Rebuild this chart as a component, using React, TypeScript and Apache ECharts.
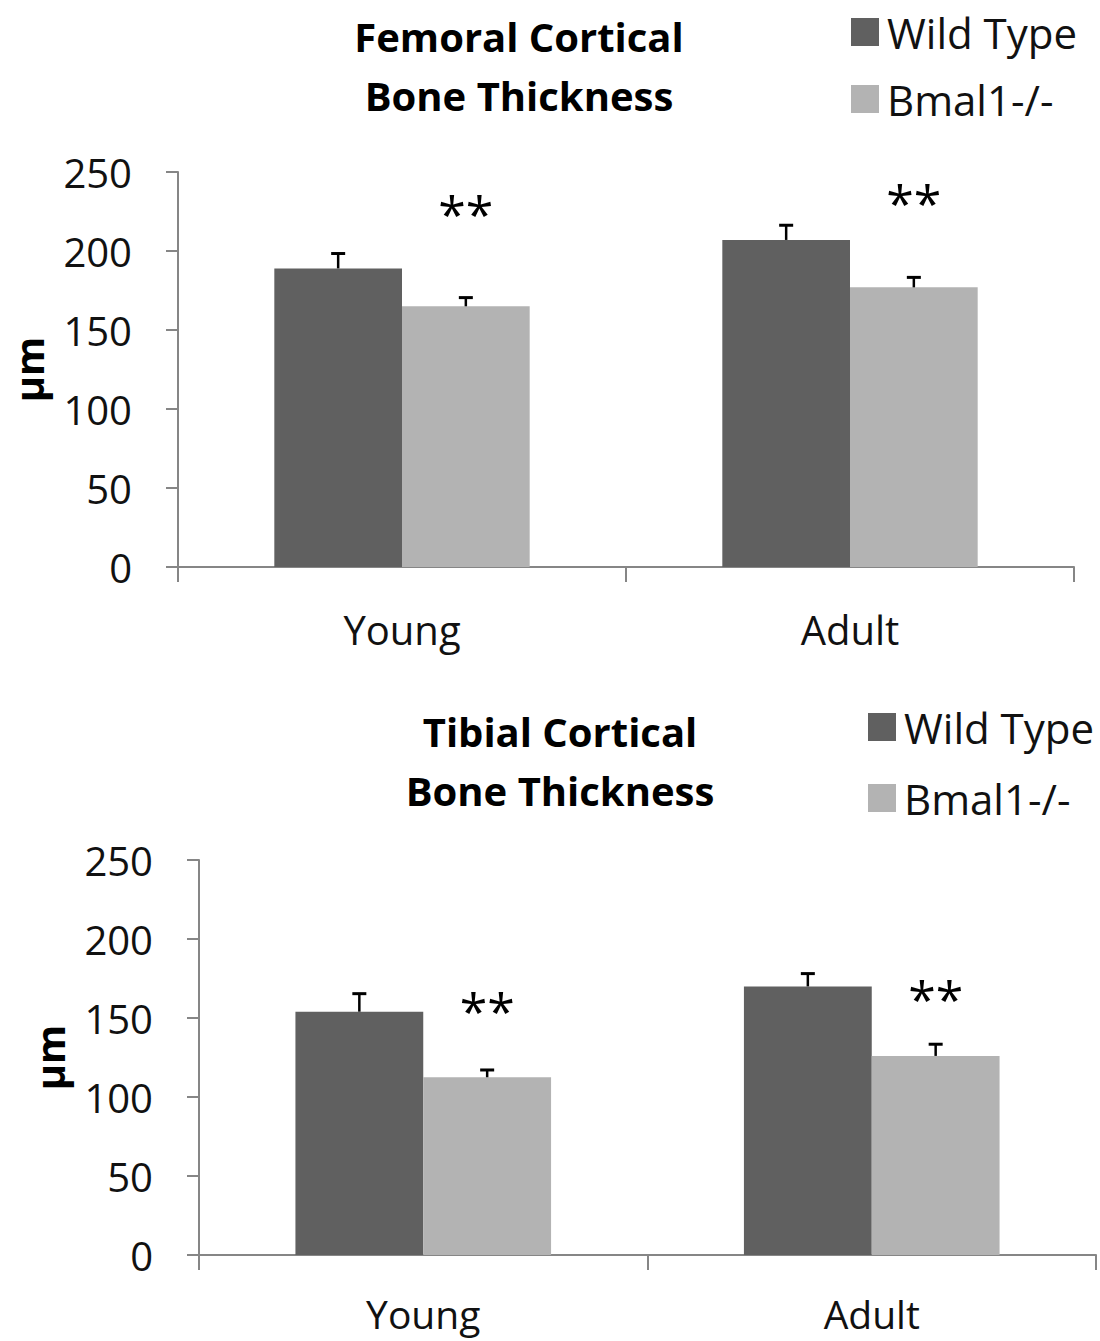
import React, { useEffect, useRef } from "react";
import * as echarts from "echarts";

const categories = ["Young", "Adult"];
const seriesNames = ["Wild Type", "Bmal1-/-"];
const yMin = 0;
const yMax = 250;
const yInterval = 50;

const femurWT = [189, 207];
const femurWTErr = [9.4, 9.3];
const femurKO = [165, 177];
const femurKOErr = [5.5, 6.3];
const femurStarY = [229, 236];

const tibiaWT = [154, 170];
const tibiaWTErr = [11.4, 8.1];
const tibiaKO = [112.5, 126];
const tibiaKOErr = [4.6, 7.4];
const tibiaStarY = [160, 168];

const topTitle = ["Femoral Cortical", "Bone Thickness"];
const bottomTitle = ["Tibial Cortical", "Bone Thickness"];
const starText = "**";
const unitLabel = "µm";

const FONT = '"Open Sans", sans-serif';
const DARK = "#606060";
const LIGHT = "#b3b3b3";
const AXIS = "#868686";
const GAP = 0.43;

function barHalf(api: any) {
  const band = api.size([1, 0])[0];
  return (band * (1 - GAP)) / 2;
}

function errorSeries(gi: number, vals: number[], errs: number[], side: number) {
  return {
    type: "custom",
    xAxisIndex: gi,
    yAxisIndex: gi,
    clip: false,
    z: 5,
    data: vals.map((v, i) => [i, v, errs[i]]),
    renderItem: (params: any, api: any) => {
      const ci = api.value(0);
      const v = api.value(1);
      const e = api.value(2);
      const bw = barHalf(api);
      const base = api.coord([ci, v]);
      const top = api.coord([ci, v + e]);
      const x = base[0] + (side * bw) / 2;
      return {
        type: "group",
        children: [
          {
            type: "line",
            shape: { x1: x, y1: base[1], x2: x, y2: top[1] },
            style: { stroke: "#000", lineWidth: 2.5 },
          },
          {
            type: "line",
            shape: { x1: x - 7, y1: top[1], x2: x + 7, y2: top[1] },
            style: { stroke: "#000", lineWidth: 3 },
          },
        ],
      };
    },
  };
}

function starSeries(gi: number, ys: number[]) {
  return {
    type: "custom",
    xAxisIndex: gi,
    yAxisIndex: gi,
    clip: false,
    z: 6,
    data: ys.map((v, i) => [i, v]),
    renderItem: (params: any, api: any) => {
      const ci = api.value(0);
      const v = api.value(1);
      const bw = barHalf(api);
      const p = api.coord([ci, v]);
      return {
        type: "text",
        x: p[0] + bw / 2,
        y: p[1] + 9,
        style: {
          text: starText,
          fontSize: 50,
          fontFamily: FONT,
          fill: "#000",
          align: "center",
          verticalAlign: "middle",
        },
      };
    },
  };
}

function makeXAxis(gi: number, fontSize: number, margin: number) {
  return {
    type: "category",
    gridIndex: gi,
    data: categories,
    axisLine: { show: true, lineStyle: { color: AXIS, width: 2 } },
    axisTick: { show: true, length: 15, lineStyle: { color: AXIS, width: 2 } },
    axisLabel: { fontSize, fontFamily: FONT, color: "#111", margin, lineHeight: 30 },
  };
}

function makeYAxis(gi: number) {
  return {
    type: "value",
    gridIndex: gi,
    min: yMin,
    max: yMax,
    interval: yInterval,
    name: unitLabel,
    nameLocation: "middle",
    nameRotate: 90,
    nameGap: 130,
    nameTextStyle: { fontSize: 40, fontWeight: "bold", fontFamily: FONT, color: "#000" },
    axisLine: { show: true, lineStyle: { color: AXIS, width: 2 } },
    axisTick: { show: true, length: 12, lineStyle: { color: AXIS, width: 2 } },
    splitLine: { show: false },
    axisLabel: { fontSize: 40, fontFamily: FONT, color: "#111", margin: 46 },
  };
}

function titleText(lines: string[], cx: number, ys: number[]) {
  return lines.map((t, i) => ({
    type: "text",
    x: cx,
    y: ys[i],
    style: {
      text: t,
      fontSize: 40,
      fontWeight: "bold",
      fontFamily: FONT,
      fill: "#000",
      align: "center",
      verticalAlign: "middle",
    },
  }));
}

function makeLegend(left: number, top: number, gap: number) {
  return {
    orient: "vertical",
    left,
    top,
    itemWidth: 28,
    itemHeight: 28,
    itemGap: gap,
    icon: "rect",
    data: seriesNames,
    selectedMode: false,
    textStyle: { fontSize: 42, fontFamily: FONT, color: "#111", lineHeight: 40, padding: [0, 0, 0, 3] },
  };
}

export default function App() {
  const ref = useRef<HTMLDivElement>(null);
  useEffect(() => {
    document.body.style.margin = "0";
    if (!ref.current) return;
    const chart = echarts.init(ref.current, null, { renderer: "svg" });
    chart.setOption({
      animation: false,
      backgroundColor: "#fff",
      grid: [
        { left: 178, top: 172, width: 896, height: 395 },
        { left: 199, top: 860, width: 897, height: 395 },
      ],
      legend: [makeLegend(846, 6, 25), makeLegend(863, 701, 29)],
      xAxis: [makeXAxis(0, 40, 47), makeXAxis(1, 39, 43)],
      yAxis: [makeYAxis(0), makeYAxis(1)],
      graphic: [
        ...titleText(topTitle, 519, [36, 95]),
        ...titleText(bottomTitle, 560, [731, 790]),
      ],
      series: [
        {
          name: seriesNames[0], type: "bar", xAxisIndex: 0, yAxisIndex: 0,
          data: femurWT, itemStyle: { color: DARK }, barGap: "0%", barCategoryGap: "43%",
        },
        {
          name: seriesNames[1], type: "bar", xAxisIndex: 0, yAxisIndex: 0,
          data: femurKO, itemStyle: { color: LIGHT }, barGap: "0%", barCategoryGap: "43%",
        },
        {
          name: seriesNames[0], type: "bar", xAxisIndex: 1, yAxisIndex: 1,
          data: tibiaWT, itemStyle: { color: DARK }, barGap: "0%", barCategoryGap: "43%",
        },
        {
          name: seriesNames[1], type: "bar", xAxisIndex: 1, yAxisIndex: 1,
          data: tibiaKO, itemStyle: { color: LIGHT }, barGap: "0%", barCategoryGap: "43%",
        },
        errorSeries(0, femurWT, femurWTErr, -1),
        errorSeries(0, femurKO, femurKOErr, 1),
        errorSeries(1, tibiaWT, tibiaWTErr, -1),
        errorSeries(1, tibiaKO, tibiaKOErr, 1),
        starSeries(0, femurStarY),
        starSeries(1, tibiaStarY),
      ],
    });
    return () => chart.dispose();
  }, []);
  return <div ref={ref} style={{ width: 1100, height: 1341 }} />;
}
